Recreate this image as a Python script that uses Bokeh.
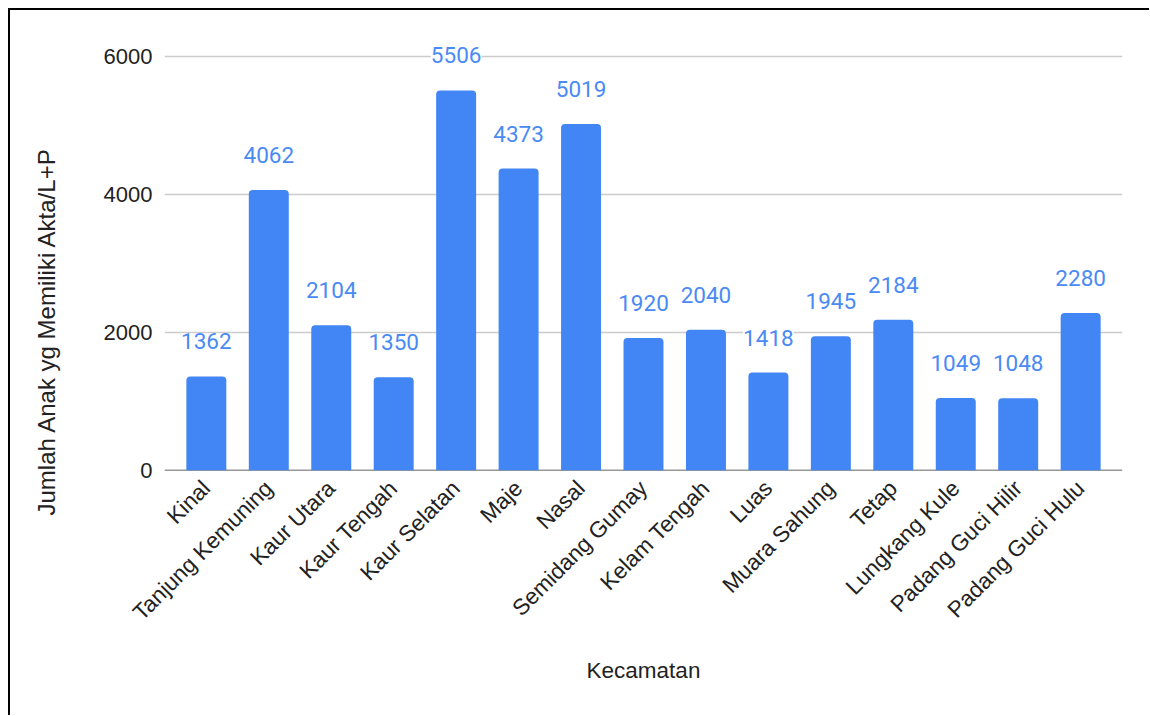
import math
from bokeh.plotting import figure
from bokeh.layouts import row
from bokeh.models import ColumnDataSource, FactorRange, Range1d, FixedTicker, Span, Title
from bokeh.core.properties import value
from bokeh.embed import file_html
from bokeh.resources import INLINE

categories = ["Kinal", "Tanjung Kemuning", "Kaur Utara", "Kaur Tengah", "Kaur Selatan",
              "Maje", "Nasal", "Semidang Gumay", "Kelam Tengah", "Luas", "Muara Sahung",
              "Tetap", "Lungkang Kule", "Padang Guci Hilir", "Padang Guci Hulu"]
values = [1362, 4062, 2104, 1350, 5506, 4373, 5019, 1920, 2040, 1418, 1945, 2184, 1049, 1048, 2280]
y_ticks = [0, 2000, 4000, 6000]

x_title = "Kecamatan"
y_title = "Jumlah Anak yg Memiliki Akta/L+P"

BAR = "#4285F4"
AXIS_FONT = "Liberation Sans"
TOTAL_H = 705
TITLE_W = 80

src = ColumnDataSource(dict(cat=categories, val=values, lbl=[str(v) for v in values]))

# ---- narrow panel carrying the rotated y-axis title ----
pt = figure(width=TITLE_W, height=TOTAL_H, x_range=Range1d(0, 1), y_range=Range1d(0, 1),
            output_backend="svg", toolbar_location=None,
            min_border_left=0, min_border_right=0, min_border_top=32, min_border_bottom=245)
pt.axis.visible = False
pt.grid.visible = False
pt.outline_line_color = None
pt.border_fill_color = "white"
pt.background_fill_color = "white"
ytitle = Title(text=y_title, align="left", offset=-45, vertical_align="middle", standoff=43,
               text_font=AXIS_FONT, text_font_size="24px", text_font_style="normal",
               text_color="#222222")
pt.add_layout(ytitle, "left")

# ---- main chart ----
p = figure(
    width=1139 - TITLE_W, height=TOTAL_H,
    x_range=FactorRange(*categories, range_padding=0.17, range_padding_units="absolute"),
    y_range=Range1d(0, 6200),
    output_backend="svg", toolbar_location=None,
    min_border_left=154 - TITLE_W, min_border_right=27, min_border_top=32, min_border_bottom=245,
)
p.outline_line_color = None
p.background_fill_color = "white"
p.border_fill_color = "white"

p.vbar(x="cat", top="val", width=0.64, source=src, fill_color=BAR, line_color=None,
       border_radius=(4, 4, 0, 0))

p.text(x="cat", y="val", text="lbl", source=src, text_align="center", text_baseline="middle",
       y_offset=-35, text_font=value("Roboto"), text_font_size="22.5px", text_color="#4a8af4",
       background_fill_color="white")

zero = Span(location=0, dimension="width", line_color="#333333", line_width=1.5, level="underlay")
p.add_layout(zero)

# y axis
p.yaxis.ticker = FixedTicker(ticks=y_ticks)
p.yaxis.axis_line_color = None
p.yaxis.major_tick_line_color = None
p.yaxis.major_tick_out = 0
p.yaxis.major_tick_in = 0
p.yaxis.minor_tick_line_color = None
p.yaxis.major_label_text_font = AXIS_FONT
p.yaxis.major_label_text_font_size = "22px"
p.yaxis.major_label_text_color = "#222222"
p.yaxis.major_label_standoff = 12

p.ygrid.ticker = FixedTicker(ticks=y_ticks[1:])
p.ygrid.grid_line_color = "#cccccc"
p.ygrid.grid_line_width = 1.5
p.xgrid.grid_line_color = None

# x axis
p.xaxis.axis_line_color = None
p.xaxis.major_tick_line_color = None
p.xaxis.major_tick_out = 0
p.xaxis.major_tick_in = 0
p.xaxis.minor_tick_line_color = None
p.xaxis.major_label_orientation = math.pi / 4
p.xaxis.major_label_text_font = AXIS_FONT
p.xaxis.major_label_text_font_size = "22.5px"
p.xaxis.major_label_text_color = "#222222"
p.xaxis.major_label_standoff = 14
p.xaxis.axis_label = x_title
p.xaxis.axis_label_text_font = AXIS_FONT
p.xaxis.axis_label_text_font_size = "22.5px"
p.xaxis.axis_label_text_font_style = "normal"
p.xaxis.axis_label_text_color = "#222222"
p.xaxis.axis_label_standoff = 21

layout = row(pt, p)
layout.styles = {"margin-left": "8px", "margin-top": "8px",
                 "border-left": "2.5px solid black", "border-top": "2.5px solid black"}

open("out.html", "w").write(file_html(layout, INLINE))
